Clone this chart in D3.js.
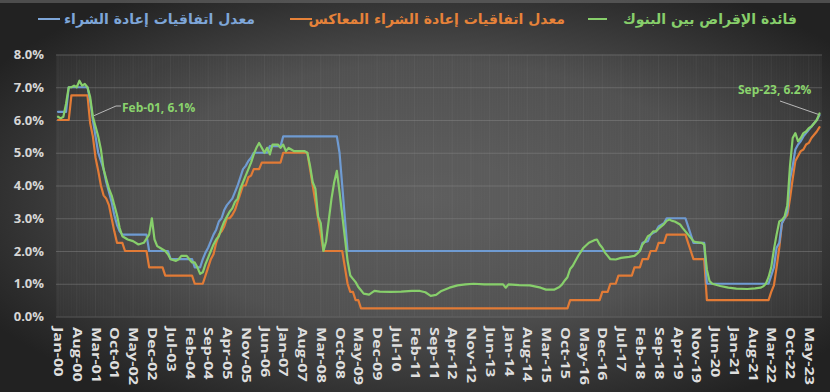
<!DOCTYPE html>
<html><head><meta charset="utf-8">
<script src="https://cdn.jsdelivr.net/npm/d3@7"></script>
<style>html,body{margin:0;padding:0;background:#2a2a2a;}svg{display:block}</style>
</head><body><svg id="c" width="830" height="392"></svg>
<script>
const monthNames = ["Jan","Feb","Mar","Apr","May","Jun","Jul","Aug","Sep","Oct","Nov","Dec"];
const tickLabels = ["Jan-00","Aug-00","Mar-01","Oct-01","May-02","Dec-02","Jul-03","Feb-04","Sep-04","Apr-05","Nov-05","Jun-06","Jan-07","Aug-07","Mar-08","Oct-08","May-09","Dec-09","Jul-10","Feb-11","Sep-11","Apr-12","Nov-12","Jun-13","Jan-14","Aug-14","Mar-15","Oct-15","May-16","Dec-16","Jul-17","Feb-18","Sep-18","Apr-19","Nov-19","Jun-20","Jan-21","Aug-21","Mar-22","Oct-22","May-23"];
const yTicks = [0,1,2,3,4,5,6,7,8];
const legendLabels = ["فائدة الإقراض بين البنوك","معدل اتفاقيات إعادة الشراء المعاكس","معدل اتفاقيات إعادة الشراء"];

// Repo rate (blue)
const repoMonths = ["2000-01","2000-04","2000-05","2000-12","2001-01","2001-02","2001-03","2001-04","2001-05","2001-06","2001-07","2001-08","2001-09","2001-10","2001-11","2001-12","2002-01","2002-10","2002-11","2003-06","2003-07","2004-03","2004-04","2004-06","2004-07","2004-08","2004-09","2004-10","2004-11","2004-12","2005-01","2005-02","2005-03","2005-04","2005-05","2005-06","2005-07","2005-08","2005-09","2005-10","2005-11","2005-12","2006-01","2006-02","2006-07","2006-08","2006-12","2007-01","2008-09","2008-10","2008-11","2008-12","2009-01","2018-02","2018-03","2018-05","2018-06","2018-08","2018-09","2018-11","2018-12","2019-07","2019-08","2019-09","2019-10","2020-02","2020-03","2022-02","2022-03","2022-04","2022-05","2022-06","2022-07","2022-08","2022-09","2022-10","2022-11","2022-12","2023-01","2023-02","2023-03","2023-04","2023-05","2023-06","2023-07","2023-08","2023-09"];
const repoValues = [6.25,6.25,7.0,7.0,6.6,6.0,5.5,5.0,4.75,4.5,4.1,3.8,3.5,3.1,2.8,2.6,2.5,2.5,2.0,2.0,1.75,1.75,1.5,1.5,1.75,1.95,2.1,2.3,2.5,2.65,2.9,3.0,3.25,3.4,3.5,3.6,3.8,4.0,4.25,4.5,4.6,4.75,4.85,5.0,5.0,5.2,5.2,5.5,5.5,5.0,4.0,3.0,2.0,2.0,2.25,2.3,2.5,2.6,2.75,2.85,3.0,3.0,2.75,2.5,2.25,2.25,1.0,1.0,1.25,1.5,2.1,2.25,2.85,3.0,3.2,4.2,4.6,5.1,5.25,5.35,5.5,5.6,5.7,5.8,5.9,6.0,6.15];

// Reverse repo rate (orange)
const reverseRepoMonths = ["2000-01","2000-05","2000-06","2000-12","2001-01","2001-02","2001-03","2001-04","2001-05","2001-06","2001-07","2001-08","2001-09","2001-10","2001-11","2002-01","2002-02","2002-10","2002-11","2003-04","2003-05","2004-03","2004-04","2004-07","2004-08","2004-09","2004-10","2004-11","2004-12","2005-01","2005-02","2005-03","2005-04","2005-05","2005-06","2005-07","2005-08","2005-09","2005-10","2005-11","2005-12","2006-01","2006-02","2006-04","2006-05","2006-12","2007-01","2007-10","2007-11","2007-12","2008-01","2008-02","2008-03","2008-04","2008-11","2008-12","2009-01","2009-02","2009-03","2009-04","2009-05","2009-06","2015-11","2015-12","2016-11","2016-12","2017-02","2017-03","2017-05","2017-06","2017-11","2017-12","2018-02","2018-03","2018-05","2018-06","2018-08","2018-09","2018-11","2018-12","2019-07","2019-08","2019-09","2019-10","2020-02","2020-03","2022-02","2022-03","2022-04","2022-05","2022-06","2022-07","2022-08","2022-09","2022-10","2022-11","2022-12","2023-01","2023-02","2023-03","2023-04","2023-05","2023-06","2023-07","2023-08","2023-09"];
const reverseRepoValues = [6.0,6.0,6.75,6.75,5.9,5.5,4.85,4.45,4.0,3.7,3.6,3.4,3.0,2.6,2.25,2.25,2.0,2.0,1.5,1.5,1.25,1.25,1.0,1.0,1.25,1.5,1.75,1.9,2.25,2.5,2.6,2.75,3.0,3.0,3.1,3.25,3.5,3.75,4.0,4.0,4.25,4.3,4.5,4.5,4.7,4.7,5.0,5.0,4.5,4.0,3.5,3.0,2.5,2.0,2.0,1.5,1.0,0.75,0.75,0.5,0.5,0.25,0.25,0.5,0.5,0.75,0.75,1.0,1.0,1.25,1.25,1.5,1.5,1.75,1.75,2.0,2.0,2.25,2.25,2.5,2.5,2.25,2.0,1.75,1.75,0.5,0.5,0.75,0.95,1.5,2.1,2.85,3.0,3.1,3.6,4.2,4.75,4.9,5.05,5.1,5.25,5.3,5.45,5.55,5.65,5.78];

// Interbank lending rate (green)
const saiborMonths = ["2000-01","2000-02","2000-03","2000-04","2000-05","2000-06","2000-07","2000-08","2000-09","2000-10","2000-11","2000-12","2001-01","2001-02","2001-03","2001-04","2001-05","2001-06","2001-07","2001-08","2001-09","2001-10","2001-11","2001-12","2002-01","2002-03","2002-05","2002-07","2002-09","2002-11","2002-12","2003-01","2003-02","2003-03","2003-05","2003-06","2003-07","2003-09","2003-10","2003-11","2004-01","2004-02","2004-03","2004-04","2004-05","2004-06","2004-07","2004-08","2004-09","2004-10","2004-11","2004-12","2005-01","2005-02","2005-03","2005-04","2005-05","2005-06","2005-07","2005-08","2005-09","2005-10","2005-11","2005-12","2006-01","2006-02","2006-03","2006-04","2006-05","2006-06","2006-07","2006-08","2006-09","2006-11","2006-12","2007-01","2007-02","2007-03","2007-04","2007-05","2007-09","2007-10","2007-11","2007-12","2008-01","2008-02","2008-03","2008-04","2008-05","2008-06","2008-07","2008-08","2008-09","2008-10","2008-11","2008-12","2009-01","2009-02","2009-03","2009-04","2009-05","2009-06","2009-07","2009-09","2009-11","2010-01","2010-05","2010-09","2011-01","2011-04","2011-06","2011-08","2011-10","2011-12","2012-03","2012-06","2012-09","2012-12","2013-04","2013-08","2013-11","2013-12","2014-01","2014-05","2014-09","2015-01","2015-03","2015-06","2015-08","2015-09","2015-10","2015-11","2015-12","2016-01","2016-02","2016-03","2016-05","2016-07","2016-09","2016-10","2016-11","2016-12","2017-01","2017-02","2017-03","2017-05","2017-07","2017-10","2017-12","2018-01","2018-02","2018-03","2018-04","2018-05","2018-06","2018-07","2018-08","2018-09","2018-10","2018-11","2018-12","2019-01","2019-02","2019-03","2019-05","2019-06","2019-07","2019-08","2019-09","2019-10","2019-11","2020-01","2020-02","2020-03","2020-04","2020-05","2020-08","2020-11","2021-02","2021-06","2021-09","2021-11","2021-12","2022-01","2022-02","2022-03","2022-04","2022-05","2022-06","2022-07","2022-08","2022-09","2022-10","2022-11","2022-12","2023-01","2023-02","2023-03","2023-04","2023-05","2023-06","2023-07","2023-08","2023-09"];
const saiborValues = [6.1,6.05,6.1,6.5,7.0,7.0,7.05,7.0,7.2,7.05,7.1,7.0,6.7,6.1,5.8,5.5,5.1,4.5,4.2,3.9,3.7,3.4,3.1,2.7,2.45,2.35,2.3,2.2,2.25,2.5,3.0,2.35,2.15,2.1,2.0,1.9,1.75,1.7,1.75,1.85,1.85,1.75,1.65,1.65,1.5,1.3,1.35,1.6,1.8,2.0,2.2,2.35,2.45,2.7,2.9,3.05,3.2,3.3,3.5,3.6,3.9,4.1,4.3,4.5,4.7,4.95,5.15,5.3,5.15,5.0,5.15,4.95,5.25,5.25,5.15,5.25,5.05,5.15,5.1,5.05,5.05,5.0,4.6,4.1,3.9,3.05,2.85,2.0,2.3,2.95,3.6,4.1,4.45,3.8,3.1,2.4,1.7,1.25,1.15,1.05,0.9,0.8,0.7,0.67,0.78,0.76,0.75,0.76,0.78,0.78,0.74,0.63,0.66,0.78,0.88,0.95,0.98,1.0,0.98,0.98,0.98,0.88,0.98,0.96,0.95,0.88,0.82,0.82,0.9,0.98,1.1,1.2,1.45,1.55,1.7,1.85,2.1,2.25,2.33,2.35,2.2,2.1,1.95,1.85,1.75,1.74,1.79,1.82,1.85,1.92,2.0,2.2,2.3,2.45,2.5,2.6,2.6,2.68,2.75,2.82,2.92,2.96,2.92,2.9,2.81,2.7,2.6,2.5,2.4,2.3,2.27,2.25,2.2,1.43,1.08,1.0,0.93,0.88,0.85,0.84,0.86,0.88,0.92,1.0,1.2,1.5,2.05,2.5,2.9,2.95,3.06,3.4,4.6,5.45,5.6,5.35,5.45,5.6,5.65,5.75,5.8,5.9,6.0,6.2];

const annotations = [
  {month:"2001-02", value:6.1, label:"Feb-01, 6.1%"},
  {month:"2023-09", value:6.2, label:"Sep-23, 6.2%"}
];

const fromIso = s => { const [y,m] = s.split("-").map(Number); return (y-2000)*12 + (m-1); };
const fromLabel = s => { const [mn,yy] = s.split("-"); return (+yy)*12 + monthNames.indexOf(mn); };
const zip = (ms, vs) => ms.map((m,i)=>({m:fromIso(m), v:vs[i]}));

const series = [
  {name:legendLabels[1], color:"#e27b36", data:zip(reverseRepoMonths, reverseRepoValues)},
  {name:legendLabels[2], color:"#6f9bd2", data:zip(repoMonths, repoValues)},
  {name:legendLabels[0], color:"#87cf6b", data:zip(saiborMonths, saiborValues)}
];

const svg = d3.select("#c");
const W = 830, H = 392;
const defs = svg.append("defs");
const rg = defs.append("radialGradient").attr("id","bg").attr("cx","52%").attr("cy","50%").attr("r","62%");
rg.append("stop").attr("offset","0%").attr("stop-color","#595959");
rg.append("stop").attr("offset","55%").attr("stop-color","#4b4b4b");
rg.append("stop").attr("offset","100%").attr("stop-color","#222222");
svg.append("rect").attr("width",W).attr("height",H).attr("fill","url(#bg)");
svg.append("rect").attr("width",W).attr("height",3).attr("fill","#6a6a6a").attr("opacity",0.6);

const x = d3.scaleLinear().domain([0, 284]).range([58, 819.5]);
const y = d3.scaleLinear().domain([0, 8]).range([316.5, 54.5]);

// plot area
svg.append("rect").attr("x",56).attr("y",y(8)).attr("width",822-56).attr("height",y(0)-y(8))
  .attr("fill","#ffffff").attr("opacity",0.035);

// faint monthly vertical lines
const months = d3.range(0, 285);
svg.append("g").selectAll("line").data(months).join("line")
  .attr("x1",d=>x(d)).attr("x2",d=>x(d)).attr("y1",y(8)).attr("y2",y(0))
  .attr("stroke","#ffffff").attr("stroke-opacity",d=> d%7===0 ? 0.05 : 0.018).attr("stroke-width",1);

// horizontal grid
svg.append("g").selectAll("line").data(yTicks).join("line")
  .attr("x1",56).attr("x2",822).attr("y1",d=>y(d)+0.5).attr("y2",d=>y(d)+0.5)
  .attr("stroke","#8a8a8a").attr("stroke-opacity",0.45).attr("stroke-width",1);

// y axis labels
const yAxis = d3.axisLeft(y).tickValues(yTicks).tickFormat(d=>d3.format(".1f")(d)+"%").tickSize(0).tickPadding(0);
const gy = svg.append("g").attr("transform","translate(44,0)").call(yAxis);
gy.select(".domain").remove();
gy.selectAll("text").attr("fill","#d6d6d6").style("font-family","'Open Sans'").style("font-weight","700").style("font-size","13px");

// x axis labels
const tickIdx = tickLabels.map(fromLabel);
const xAxis = d3.axisBottom(x).tickValues(tickIdx).tickFormat(d=>tickLabels[tickIdx.indexOf(d)]).tickSize(0).tickPadding(0);
const gx = svg.append("g").attr("transform","translate(0,327)").call(xAxis);
gx.select(".domain").remove();
gx.selectAll("text")
  .attr("fill","#dedede").style("font-family","'Open Sans'").style("font-weight","700").style("font-size","12px")
  .attr("y",0).attr("dy","0.36em").attr("text-anchor","start")
  .attr("transform","rotate(90) scale(1.35,1)");

// lines
const line = d3.line().x(d=>x(d.m)).y(d=>y(d.v));
svg.append("g").selectAll("path").data(series).join("path")
  .attr("d",d=>line(d.data)).attr("fill","none").attr("stroke",d=>d.color)
  .attr("stroke-width",2.2).attr("stroke-linejoin","round").attr("stroke-linecap","round");

// annotations
const a0 = annotations[0], a1 = annotations[1];
const p0 = [x(fromIso(a0.month)), y(a0.value)];
svg.append("path").attr("d",`M${p0[0]+1},${p0[1]-1}L116,106L121,106`).attr("fill","none").attr("stroke","#b8b8b8").attr("stroke-width",1);
svg.append("text").attr("x",122).attr("y",112).text(a0.label).attr("fill","#8ad36d")
  .style("font-family","'Open Sans'").style("font-weight","700").style("font-size","12px");
const p1 = [x(fromIso(a1.month)), y(a1.value)];
svg.append("path").attr("d",`M780,101L${p1[0]-1},${p1[1]+1}`).attr("fill","none").attr("stroke","#b8b8b8").attr("stroke-width",1);
svg.append("text").attr("x",738).attr("y",94).text(a1.label).attr("fill","#8ad36d")
  .style("font-family","'Open Sans'").style("font-weight","700").style("font-size","12px");

// legend (RTL): text with dash to its left
const legendPos = [{right:797, dash:[588,607]},{right:565, dash:[290,312]},{right:255, dash:[38,60]}];
const legendColors = ["#87cf6b","#e68239","#7ea6d8"];
const lg = svg.append("g");
legendLabels.forEach((lab,i)=>{
  const p = legendPos[i];
  lg.append("line").attr("x1",p.dash[0]).attr("x2",p.dash[1]).attr("y1",19).attr("y2",19)
    .attr("stroke",legendColors[i]).attr("stroke-width",2);
  lg.append("text").attr("x",p.right).attr("y",24).attr("text-anchor","end")
    .text(lab).attr("fill",legendColors[i])
    .style("font-family","'DejaVu Sans'").style("font-weight","700").style("font-size","14px");
});
</script></body></html>
